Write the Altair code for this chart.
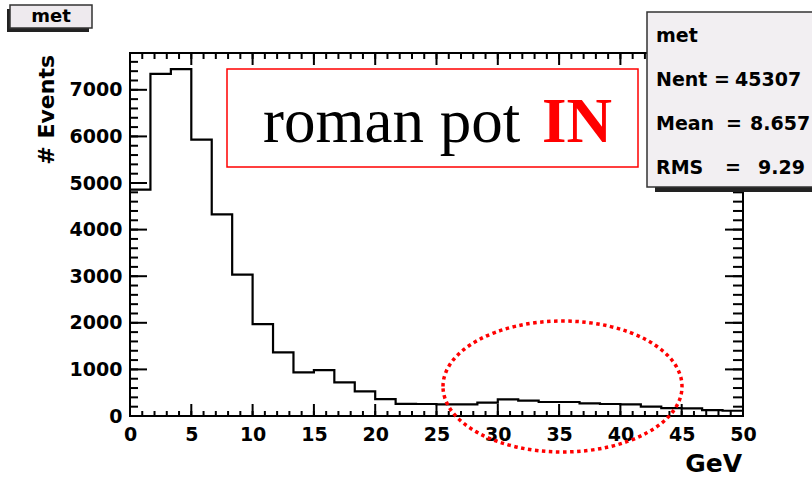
import altair as alt
import numpy as np
import pandas as pd

# ---- data (30 bins, 0..50 GeV) ----
counts = [4860, 7340, 7445, 5930, 4325, 3034, 1970, 1364, 935, 985,
          721, 528, 364, 260, 257, 250, 250, 285, 357, 328,
          300, 300, 272, 257, 250, 200, 170, 165, 128, 113]
x_major = [0, 5, 10, 15, 20, 25, 30, 35, 40, 45, 50]
x_minor = list(range(0, 51))
y_major = [0, 1000, 2000, 3000, 4000, 5000, 6000, 7000]
y_minor = list(range(0, 7700, 200))
stat_names = ["Nent", "Mean", "RMS"]
stat_values = ["45307", "8.657", "9.29"]
hist_name = "met"
x_title = "GeV"
y_title = "# Events"

edges = np.linspace(0, 50, len(counts) + 1)
hist = pd.DataFrame({"edge": edges, "count": counts + [counts[-1]]})
one = pd.DataFrame({"k": [0]})

W, H = 613, 363
xs = alt.Scale(domain=[0, 50], nice=False, zero=False)
ys = alt.Scale(domain=[0, 7790], nice=False)
FONT = "DejaVu Sans"


def label_axis(values, pad):
    return alt.Axis(values=values, format="d", ticks=False, domain=False, grid=False,
                    title=None, labelFont=FONT, labelFontWeight="bold", labelFontSize=19,
                    labelColor="black", labelPadding=pad, labelFlush=False,
                    labelOverlap=False, labelBound=False)


XAX = label_axis(x_major, 9)
YAX = label_axis(y_major, 8)

layers = []

# histogram
layers.append(alt.Chart(hist).mark_line(
    interpolate="step-after", color="black", strokeWidth=2.2
).encode(
    x=alt.X("edge:Q", scale=xs, axis=XAX),
    y=alt.Y("count:Q", scale=ys, axis=YAX),
))


# inward ticks on all four sides, placed through the scales
def xticks(values, y, y2):
    df = pd.DataFrame({"v": values})
    return alt.Chart(df).mark_rule(color="black", strokeWidth=2).encode(
        x=alt.X("v:Q", scale=xs, axis=XAX), y=alt.value(y), y2=alt.value(y2))


def yticks(values, x, x2):
    df = pd.DataFrame({"v": values})
    return alt.Chart(df).mark_rule(color="black", strokeWidth=2).encode(
        y=alt.Y("v:Q", scale=ys, axis=YAX), x=alt.value(x), x2=alt.value(x2))


layers += [
    xticks(x_minor, H, H - 5), xticks(x_major, H, H - 12),
    xticks(x_minor, 0, 6), xticks(x_major, 0, 12),
    yticks(y_minor, 0, 8), yticks(y_major, 0, 17),
    yticks(y_minor, W, W - 10), yticks(y_major, W, W - 18),
]


def rect(x, x2, y, y2, **kw):
    return alt.Chart(one).mark_rect(**kw).encode(
        x=alt.value(x), x2=alt.value(x2), y=alt.value(y), y2=alt.value(y2))


def text(s, x, y, **kw):
    return alt.Chart(one).mark_text(**kw).encode(
        x=alt.value(x), y=alt.value(y), text=alt.value(s))


bold = dict(font=FONT, fontWeight="bold", color="black")

# red annotation box
layers.append(rect(97, 508, 16, 114, fill="white", stroke="red", strokeWidth=1.5))
layers.append(text("roman pot", 133, 89, font="Liberation Serif", fontSize=63,
                   align="left", baseline="alphabetic", color="black"))
layers.append(text("IN", 412, 89, font="Liberation Serif", fontSize=63, fontWeight="bold",
                   align="left", baseline="alphabetic", color="red"))

# dotted ellipse
k = 0.548
c = 0.5523
ell = (f"M-1,0 C-1,{-c*k:.4f} {-c},{-k} 0,{-k} C{c},{-k} 1,{-c*k:.4f} 1,0 "
       f"C1,{c*k:.4f} {c},{k} 0,{k} C{-c},{k} -1,{c*k:.4f} -1,0 Z")
layers.append(alt.Chart(one).mark_point(
    shape=ell, size=239 ** 2, filled=False, stroke="red", strokeWidth=3.5,
    strokeDash=[3.5, 3.5], opacity=1
).encode(x=alt.value(432.5), y=alt.value(333.5)))

# axis titles
layers.append(text(y_title, -83, 2, angle=270, align="right", baseline="middle",
                   fontSize=22, **bold))
layers.append(text(x_title, 612, 419, align="right", baseline="alphabetic",
                   fontSize=25, **bold))

# histogram title box
layers.append(rect(-123, -41, -44, -21, fill="#222222"))
layers.append(rect(-120, -38, -48, -25, fill="#eeeaee", stroke="#333333", strokeWidth=1.5))
layers.append(text(hist_name, -79, -36, align="center", baseline="middle", fontSize=18, **bold))

# stats box
layers.append(rect(525, 700, -35, 139, fill="#222222"))
layers.append(rect(517, 700, -41, 134, fill="#f2eff2", stroke="#333333", strokeWidth=1.5))
layers.append(text(hist_name, 526, -11, align="left", baseline="alphabetic", fontSize=19, **bold))
eq_x = [592, 604, 603]
val_x = [605, 620, 628]
base_y = [33, 77, 121]
for i in range(3):
    layers.append(text(stat_names[i], 526, base_y[i], align="left", baseline="alphabetic",
                       fontSize=19, **bold))
    layers.append(text("=", eq_x[i], base_y[i], align="center", baseline="alphabetic",
                       fontSize=19, **bold))
    layers.append(text(stat_values[i], val_x[i], base_y[i], align="left", baseline="alphabetic",
                       fontSize=19, **bold))

chart = alt.layer(*layers).properties(
    width=W, height=H,
    padding={"left": 130, "top": 53, "right": 69, "bottom": 62},
    autosize=alt.AutoSizeParams(type="none"),
    background="white",
).configure_view(stroke="black", strokeWidth=2)

chart.save("out.html", embed_options={"renderer": "svg", "actions": False})
